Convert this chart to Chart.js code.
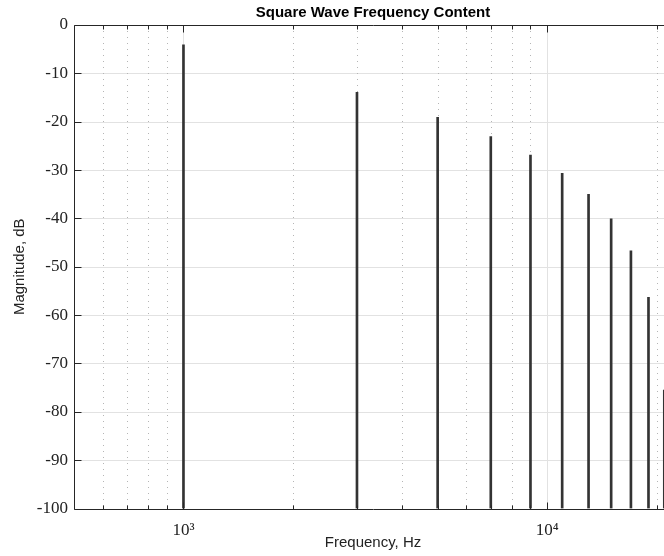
<!DOCTYPE html>
<html>
<head>
<meta charset="utf-8">
<script src="https://cdn.jsdelivr.net/npm/chart.js@4.4.1/dist/chart.umd.min.js"></script>
<style>
  html, body { margin: 0; padding: 0; overflow: hidden; background: #fff; }
  #wrap { position: absolute; left: 0; top: 0; width: 690px; height: 556px; }
</style>
</head>
<body>
<div id="wrap"><canvas id="c"></canvas></div>
<script>
// ---- data ----
const freqHz = [1000, 3000, 5000, 7000, 9000, 11000, 13000, 15000, 17000, 19000, 21000];
const magnitudeDb = [-4.1, -13.9, -19.1, -23.1, -26.9, -30.7, -35.0, -40.1, -46.7, -56.3, -75.5];
const yTickValues = [0, -10, -20, -30, -40, -50, -60, -70, -80, -90, -100];
const xMajorTicks = [1000, 10000];
const xMajorLabels = ['10³', '10⁴'];
const xMinorTicks = [600, 700, 800, 900, 2000, 3000, 4000, 5000, 6000, 7000, 8000, 9000, 20000];
const xMin = 500, xMax = 22050, yMin = -100, yMax = 0;
const titleText = 'Square Wave Frequency Content';
const xTitle = 'Frequency, Hz';
const yTitle = 'Magnitude, dB';

const stemData = freqHz.map((f, i) => ({ x: f, y: [yMin, magnitudeDb[i]] }));

const gridPlugin = {
  id: 'matlabGrid',
  beforeDatasetsDraw(chart) {
    const { ctx, chartArea: { left, right, top, bottom }, scales: { x, y } } = chart;
    ctx.save();
    ctx.beginPath();
    ctx.rect(left, top, right - left, bottom - top);
    ctx.clip();
    ctx.lineWidth = 1;
    ctx.strokeStyle = '#e2e2e2';
    yTickValues.forEach(v => {
      const py = Math.round(y.getPixelForValue(v)) + 0.5;
      ctx.beginPath(); ctx.moveTo(left, py); ctx.lineTo(right, py); ctx.stroke();
    });
    xMajorTicks.forEach(v => {
      const px = Math.round(x.getPixelForValue(v)) + 0.5;
      ctx.beginPath(); ctx.moveTo(px, top); ctx.lineTo(px, bottom); ctx.stroke();
    });
    ctx.setLineDash([1, 5]);
    ctx.strokeStyle = '#b5b5b5';
    xMinorTicks.forEach(v => {
      const px = Math.round(x.getPixelForValue(v)) + 0.5;
      ctx.beginPath(); ctx.moveTo(px, top); ctx.lineTo(px, bottom); ctx.stroke();
    });
    ctx.restore();
  },
  afterDatasetsDraw(chart) {
    const { ctx, chartArea: { left, right, top, bottom }, scales: { x, y } } = chart;
    ctx.save();
    ctx.strokeStyle = '#262626';
    ctx.lineWidth = 1;
    const L = Math.round(left) + 0.5, T = Math.round(top) + 0.5, B = Math.round(bottom) + 0.5, R = Math.round(right) + 0.5;
    ctx.beginPath();
    ctx.moveTo(R, T); ctx.lineTo(L, T); ctx.lineTo(L, B); ctx.lineTo(R, B); ctx.lineTo(R, T);
    ctx.stroke();
    yTickValues.forEach(v => {
      const py = Math.round(y.getPixelForValue(v)) + 0.5;
      ctx.beginPath(); ctx.moveTo(L, py); ctx.lineTo(L + 7, py); ctx.stroke();
      ctx.beginPath(); ctx.moveTo(R, py); ctx.lineTo(R - 7, py); ctx.stroke();
    });
    xMajorTicks.forEach(v => {
      const px = Math.round(x.getPixelForValue(v)) + 0.5;
      ctx.beginPath(); ctx.moveTo(px, B); ctx.lineTo(px, B - 7); ctx.stroke();
      ctx.beginPath(); ctx.moveTo(px, T); ctx.lineTo(px, T + 7); ctx.stroke();
    });
    xMinorTicks.forEach(v => {
      const px = Math.round(x.getPixelForValue(v)) + 0.5;
      ctx.beginPath(); ctx.moveTo(px, B); ctx.lineTo(px, B - 4); ctx.stroke();
      ctx.beginPath(); ctx.moveTo(px, T); ctx.lineTo(px, T + 4); ctx.stroke();
    });
    ctx.restore();
  }
};

new Chart(document.getElementById('c'), {
  type: 'bar',
  data: {
    datasets: [{
      data: stemData,
      backgroundColor: '#333333',
      borderWidth: 0,
      barThickness: 2
    }]
  },
  options: {
    responsive: true,
    maintainAspectRatio: false,
    animation: false,
    layout: { padding: { left: 0, right: 18, top: 0, bottom: 0 } },
    plugins: {
      legend: { display: false },
      tooltip: { enabled: false },
      title: {
        display: true,
        text: titleText,
        fullSize: false,
        color: '#000',
        font: { family: 'Liberation Sans, Arial, sans-serif', size: 15, weight: 'bold', lineHeight: 1.2 },
        padding: { top: 4, bottom: 3 }
      }
    },
    scales: {
      x: {
        type: 'logarithmic',
        min: xMin,
        max: xMax,
        grid: { display: false, drawTicks: false },
        border: { display: false },
        afterBuildTicks: (scale) => {
          scale.ticks = xMajorTicks.map(v => ({ value: v }));
        },
        afterFit: (scale) => { scale.height = 47.5; },
        ticks: {
          autoSkip: false,
          maxRotation: 0,
          padding: 12,
          color: '#222',
          font: { family: 'Liberation Serif, DejaVu Serif, serif', size: 17 },
          callback: (v) => {
            const i = xMajorTicks.indexOf(v);
            return i >= 0 ? xMajorLabels[i] : '';
          }
        },
        title: {
          display: true,
          text: xTitle,
          color: '#222',
          font: { family: 'Liberation Sans, Arial, sans-serif', size: 15 },
          padding: { top: 0, bottom: 4 }
        }
      },
      y: {
        min: yMin,
        max: yMax,
        grid: { display: false, drawTicks: false },
        border: { display: false },
        afterBuildTicks: (scale) => {
          scale.ticks = yTickValues.map(v => ({ value: v }));
        },
        afterFit: (scale) => { scale.width = 74; },
        ticks: {
          padding: 6,
          color: '#222',
          font: { family: 'Liberation Serif, DejaVu Serif, serif', size: 17 }
        },
        title: {
          display: true,
          text: yTitle,
          color: '#222',
          font: { family: 'Liberation Sans, Arial, sans-serif', size: 15 },
          padding: { top: 11, bottom: 0 }
        }
      }
    }
  },
  plugins: [gridPlugin]
});
</script>
</body>
</html>
